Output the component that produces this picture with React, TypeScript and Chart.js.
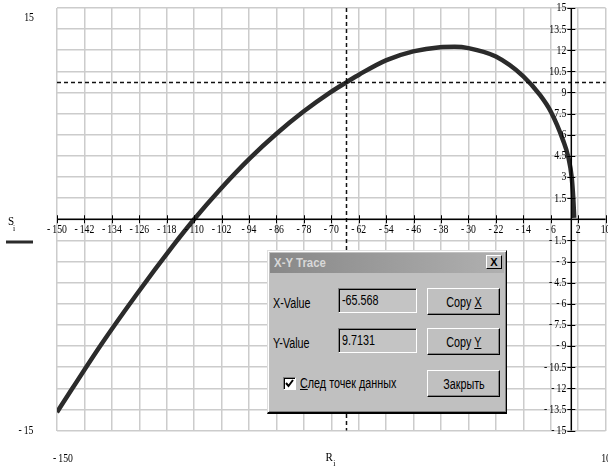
import React, { useEffect, useRef } from "react";
import { Chart, registerables } from "chart.js";

Chart.register(...registerables);

// ---- data ----
const rValues = [-150, -137.5, -126.8, -116.2, -110, -102.5, -93.7, -86, -78.2, -70.4, -65.5, -61.7, -53.9, -46.1, -38.3, -34, -30, -22, -14, -9.1, -6, -2.4, -0.9, 0.1, 0.55, 0.85];
const sValues = [-13.7, -9.03, -5.34, -1.89, 0, 2.1, 4.34, 6.07, 7.63, 8.99, 9.74, 10.3, 11.3, 11.92, 12.22, 12.25, 12.15, 11.55, 10.15, 8.81, 7.65, 5.6, 4.43, 3.0, 1.58, 0.1];

const xTickValues = [-150, -142, -134, -126, -118, -110, -102, -94, -86, -78, -70, -62, -54, -46, -38, -30, -22, -14, -6, 2, 10];
const yTickValues = [15, 13.5, 12, 10.5, 9, 7.5, 6, 4.5, 3, 1.5, 0, -1.5, -3, -4.5, -6, -7.5, -9, -10.5, -12, -13.5, -15];

const xMin = -150;
const xMax = 10;
const yMin = -15;
const yMax = 15;

const traceX = -65.568;
const traceY = 9.7131;

const xAxisTitle = "R";
const yAxisTitle = "S";
const subscript = "i";

const SERIF = '"Liberation Serif", "Times New Roman", serif';

function fmt(v: number): string {
  const a = Math.abs(v);
  return v < 0 ? "-\u2009" + String(a) : String(a);
}

function drawText(ctx: CanvasRenderingContext2D, str: string, x: number, y: number, align: CanvasTextAlign, size = 13, sx = 0.75) {
  ctx.save();
  ctx.translate(x, y);
  ctx.scale(sx, 1);
  ctx.font = `${size}px ${SERIF}`;
  ctx.textAlign = align;
  ctx.textBaseline = "middle";
  ctx.fillStyle = "#000";
  ctx.fillText(str, 0, 0);
  ctx.restore();
}

const mathcadPlugin = {
  id: "mathcadAxes",
  afterDatasetsDraw(chart: any) {
    const { ctx, chartArea: a, scales } = chart;
    const x = scales.x;
    const y = scales.y;
    const x0 = x.getPixelForValue(0);
    const y0 = y.getPixelForValue(0);
    ctx.save();

    // trace crosshair
    const tx = x.getPixelForValue(traceX);
    const ty = y.getPixelForValue(traceY);
    ctx.setLineDash([4, 3]);
    ctx.strokeStyle = "#111";
    ctx.lineWidth = 1.5;
    ctx.beginPath();
    ctx.moveTo(a.left, ty);
    ctx.lineTo(a.right, ty);
    ctx.moveTo(tx, a.top);
    ctx.lineTo(tx, a.bottom);
    ctx.stroke();
    ctx.setLineDash([]);

    // axes through origin
    ctx.strokeStyle = "#000";
    ctx.lineWidth = 1.5;
    ctx.beginPath();
    ctx.moveTo(a.left, y0);
    ctx.lineTo(a.right, y0);
    ctx.moveTo(x0, a.top);
    ctx.lineTo(x0, a.bottom);
    ctx.stroke();

    // tick marks
    ctx.lineWidth = 1;
    ctx.beginPath();
    for (const v of xTickValues) {
      const px = Math.round(x.getPixelForValue(v)) + 0.5;
      ctx.moveTo(px, y0 - 4);
      ctx.lineTo(px, y0 + 4);
    }
    for (const v of yTickValues) {
      if (v === 0) continue;
      const py = Math.round(y.getPixelForValue(v)) + 0.5;
      ctx.moveTo(x0 - 4, py);
      ctx.lineTo(x0 + 4, py);
    }
    ctx.stroke();

    // tick labels
    for (const v of xTickValues) {
      drawText(ctx, fmt(v), x.getPixelForValue(v), y0 + 10, "center");
    }
    for (const v of yTickValues) {
      if (v === 0) continue;
      drawText(ctx, fmt(v), x0 - 5, y.getPixelForValue(v), "right");
    }

    // outer range labels
    drawText(ctx, fmt(yMax), 29, 18, "center");
    drawText(ctx, fmt(yMin), 26, 431, "center");
    drawText(ctx, fmt(xMin), 63, 459, "center");
    drawText(ctx, fmt(xMax), 606, 459, "center");

    // axis titles
    const midX = (a.left + a.right) / 2;
    drawText(ctx, xAxisTitle, midX - 2, 458, "center", 13, 0.85);
    drawText(ctx, subscript, midX + 3, 464, "center", 9, 0.85);
    const midY = (a.top + a.bottom) / 2;
    drawText(ctx, yAxisTitle, 11, midY + 2, "center", 13, 0.85);
    drawText(ctx, subscript, 14, midY + 9, "center", 9, 0.85);

    // legend line
    ctx.strokeStyle = "#2b2b2b";
    ctx.lineWidth = 3;
    ctx.beginPath();
    ctx.moveTo(6, 242);
    ctx.lineTo(33, 242);
    ctx.stroke();

    ctx.restore();
  },
};

const DIALOG_FONT = '"Liberation Sans", Arial, sans-serif';

function T(props: { children: React.ReactNode; left: number; top: number; size?: number; sx?: number; bold?: boolean; color?: string }) {
  const { children, left, top, size = 14, sx = 0.77, bold = false, color = "#000" } = props;
  return (
    <div
      style={{
        position: "absolute",
        left,
        top,
        fontFamily: DIALOG_FONT,
        fontSize: size,
        fontWeight: bold ? "bold" : "normal",
        color,
        whiteSpace: "nowrap",
        lineHeight: "16px",
        transform: `scaleX(${sx})`,
        transformOrigin: "left center",
      }}
    >
      {children}
    </div>
  );
}

function Button(props: { left: number; top: number; width: number; height: number; children: React.ReactNode }) {
  const { left, top, width, height, children } = props;
  return (
    <div
      style={{
        position: "absolute",
        left,
        top,
        width,
        height,
        boxSizing: "border-box",
        background: "#c0c0c0",
        borderTop: "1px solid #fff",
        borderLeft: "1px solid #fff",
        borderRight: "1px solid #000",
        borderBottom: "1px solid #000",
        boxShadow: "inset -1px -1px 0 #808080",
        display: "flex",
        alignItems: "center",
        justifyContent: "center",
      }}
    >
      <span
        style={{
          fontFamily: DIALOG_FONT,
          fontSize: 14,
          whiteSpace: "nowrap",
          transform: "scaleX(0.77)",
          display: "inline-block",
        }}
      >
        {children}
      </span>
    </div>
  );
}

function Field(props: { left: number; top: number; text: string }) {
  const { left, top, text } = props;
  return (
    <div
      style={{
        position: "absolute",
        left,
        top,
        width: 79,
        height: 25,
        boxSizing: "border-box",
        background: "#c4c4c4",
        borderTop: "1px solid #808080",
        borderLeft: "1px solid #808080",
        borderRight: "1px solid #fff",
        borderBottom: "1px solid #fff",
        boxShadow: "inset 1px 1px 0 #000",
      }}
    >
      <T left={3} top={3}>{text}</T>
    </div>
  );
}

function TraceDialog() {
  return (
    <>
      <div
        style={{
          position: "absolute",
          left: 267,
          top: 250,
          width: 240,
          height: 164,
          boxSizing: "border-box",
          background: "#c0c0c0",
          borderTop: "1px solid #dfdfdf",
          borderLeft: "1px solid #dfdfdf",
          borderRight: "1px solid #000",
          borderBottom: "2px solid #000",
          boxShadow: "inset 1px 1px 0 #fff, inset -1px -1px 0 #808080",
        }}
      />
      <div
        style={{
          position: "absolute",
          left: 270,
          top: 253,
          width: 234,
          height: 20,
          background: "linear-gradient(to right, #888888, #b0b0b0)",
        }}
      />
      <T left={274} top={255} size={13} sx={0.88} bold color="#d8d8d8">X-Y Trace</T>
      <div
        style={{
          position: "absolute",
          left: 486,
          top: 255,
          width: 16,
          height: 14,
          boxSizing: "border-box",
          background: "#c0c0c0",
          borderTop: "1px solid #fff",
          borderLeft: "1px solid #fff",
          borderRight: "1px solid #000",
          borderBottom: "1px solid #000",
          fontFamily: DIALOG_FONT,
          fontSize: 11,
          fontWeight: "bold",
          lineHeight: "12px",
          textAlign: "center",
        }}
      >
        X
      </div>

      <T left={273} top={295}>X-Value</T>
      <Field left={338} top={288} text="-65.568" />
      <Button left={427} top={288} width={73} height={27}>
        Copy <u>X</u>
      </Button>

      <T left={273} top={335}>Y-Value</T>
      <Field left={338} top={328} text="9.7131" />
      <Button left={427} top={328} width={73} height={27}>
        Copy <u>Y</u>
      </Button>

      <div
        style={{
          position: "absolute",
          left: 283,
          top: 377,
          width: 13,
          height: 13,
          boxSizing: "border-box",
          background: "#fff",
          borderTop: "1px solid #808080",
          borderLeft: "1px solid #808080",
          borderRight: "1px solid #fff",
          borderBottom: "1px solid #fff",
          boxShadow: "inset 1px 1px 0 #000",
        }}
      >
        <svg width="11" height="11" style={{ position: "absolute", left: 0, top: 0 }}>
          <path d="M2 5 L4.5 8 L9 2" stroke="#000" strokeWidth="2" fill="none" />
        </svg>
      </div>
      <T left={300} top={375}>
        <u>С</u>лед точек данных
      </T>
      <Button left={427} top={370} width={73} height={27}>
        Закрыть
      </Button>
    </>
  );
}

export default function App() {
  const canvasRef = useRef<HTMLCanvasElement | null>(null);

  useEffect(() => {
    const canvas = canvasRef.current;
    if (!canvas) return;
    const points = rValues.map((r, i) => ({ x: r, y: sValues[i] }));
    const chart = new Chart(canvas, {
      type: "scatter",
      data: {
        datasets: [
          {
            label: "S_i",
            data: points,
            showLine: true,
            borderColor: "#2b2b2b",
            borderWidth: 4.5,
            pointRadius: 0,
            cubicInterpolationMode: "monotone",
            fill: false,
          },
        ],
      },
      options: {
        responsive: false,
        animation: false,
        devicePixelRatio: 1,
        layout: { padding: { left: 57, top: 8, right: 2.4, bottom: 39.5 } },
        plugins: { legend: { display: false }, tooltip: { enabled: false } },
        scales: {
          x: {
            type: "linear",
            min: xMin,
            max: xMax,
            afterBuildTicks: (s: any) => {
              s.ticks = xTickValues.map((v) => ({ value: v }));
            },
            afterFit: (s: any) => {
              s.height = 0;
            },
            ticks: { display: false },
            border: { display: false },
            grid: { color: "#cccccc", lineWidth: 1.5, drawTicks: false },
          },
          y: {
            type: "linear",
            min: yMin,
            max: yMax,
            afterBuildTicks: (s: any) => {
              s.ticks = yTickValues.map((v) => ({ value: v }));
            },
            afterFit: (s: any) => {
              s.width = 0;
            },
            ticks: { display: false },
            border: { display: false },
            grid: { color: "#cccccc", lineWidth: 1.5, drawTicks: false },
          },
        },
      },
      plugins: [mathcadPlugin],
    });
    return () => chart.destroy();
  }, []);

  return (
    <div style={{ position: "fixed", left: 0, top: 0, width: 608, height: 470, background: "#fff", overflow: "hidden" }}>
      <canvas ref={canvasRef} width={608} height={470} style={{ position: "absolute", left: 0, top: 0, width: 608, height: 470 }} />
      <TraceDialog />
    </div>
  );
}
